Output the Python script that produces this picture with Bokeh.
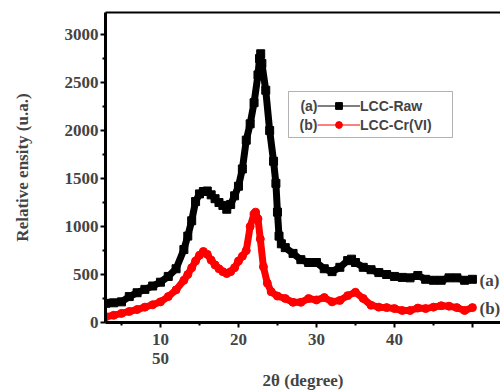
from bokeh.plotting import figure
from bokeh.models import (Range1d, LinearAxis, FixedTicker, Label, Legend, LegendItem,
                          BoxAnnotation)
from bokeh.embed import file_html
from bokeh.resources import INLINE

nan = float("nan")

# ---- data ----
raw_x = [3, 4, 5, 6, 7, 8, 9, 10, 11, 12, 13, 13.5, 14, 14.5, 15, 15.5, 16, 16.5, 17, 17.5,
         18, 18.5, 19, 19.5, 20, 20.5, 21, 21.5, 22, 22.5, 22.7, 22.85, 23, 23.5, 24, 24.5,
         24.8, 25, 25.2, 25.5, 26, 27, 28, 29, 30, 31, 32, 33, 34, 34.5, 35, 36, 37, 38, 39,
         40, 41, 42, 43, 44, 45, 46, 47, 48, 49, 50]
raw_y = [200, 205, 215, 270, 310, 345, 380, 420, 480, 560, 760, 900, 1060, 1260, 1340, 1365,
         1370, 1330, 1290, 1250, 1220, 1180, 1230, 1320, 1420, 1600, 1900, 2070, 2290, 2580,
         2750, 2800, 2700, 2420, 2000, 1680, 1450, 1150, 900, 820, 780, 720, 655, 625, 625,
         560, 530, 575, 645, 660, 625, 575, 550, 520, 500, 480, 470, 465, 490, 450, 440, 440,
         465, 465, 440, 450]

cr_x = [3, 4, 5, 6, 7, 8, 9, 10, 11, 12, 13, 13.5, 14, 14.5, 15, 15.5, 16, 16.5, 17, 17.5,
        18, 18.5, 19, 19.5, 20, 20.5, 21, 21.5, 22, 22.2, 22.5, 22.8, 23.2, 23.7, 24.2, 25,
        26, 27, 28, 29, 30, 31, 32, 33, 34, 35, 36, 37, 38, 39, 40, 41, 42, 43, 44, 45, 46,
        47, 48, 49, 50]
cr_y = [60, 75, 95, 115, 135, 160, 185, 215, 270, 340, 440, 500, 570, 640, 700, 740, 710,
        650, 600, 560, 530, 510, 530, 570, 640, 690, 750, 1000, 1130, 1150, 1080, 870, 580,
        410, 320, 275, 250, 210, 210, 250, 235, 260, 215, 230, 280, 315, 250, 180, 160, 155,
        145, 125, 125, 150, 145, 160, 175, 170, 155, 125, 155]

x_ticks = [10, 20, 30, 40, 50]
x_tick_labels = {10: "10\n50", 50: ""}
y_ticks = [0, 500, 1000, 1500, 2000, 2500, 3000]
series_names = ["LCC-Raw", "LCC-Cr(VI)"]
series_tags = ["(a)", "(b)"]

SERIF = "Liberation Serif"
SANS = "Liberation Sans"

p = figure(width=500, height=392, output_backend="svg", toolbar_location=None,
           x_range=Range1d(2.95, 53.6), y_range=Range1d(0, 3230),
           min_border_left=105, min_border_right=0, min_border_top=12, min_border_bottom=0)
p.grid.visible = False
p.outline_line_color = None
p.background_fill_color = "white"

# data
p.line(raw_x, raw_y, line_color="black", line_width=7)
r_raw = p.scatter(raw_x, raw_y, marker="square", size=8, color="black")
p.line(cr_x, cr_y, line_color="red", line_width=7)
r_cr = p.scatter(cr_x, cr_y, marker="circle", size=8, color="red")

# thin lines for legend glyphs (no visible data)
lg_raw = p.line(x=[nan], y=[nan], line_color="black", line_width=1)
lg_cr = p.line(x=[nan], y=[nan], line_color="red", line_width=1)

# axes
xa = p.below[0]
ya = p.left[0]
xa.ticker = FixedTicker(ticks=x_ticks, minor_ticks=[5, 15, 25, 35, 45])
xa.major_label_overrides = x_tick_labels
ya.ticker = FixedTicker(ticks=y_ticks, minor_ticks=[250, 750, 1250, 1750, 2250, 2750, 3250])
for ax in (xa, ya):
    ax.axis_line_width = 3
    ax.major_tick_line_width = 2
    ax.minor_tick_line_width = 2
    ax.major_tick_in = 0
    ax.major_tick_out = 5
    ax.minor_tick_in = 0
    ax.minor_tick_out = 3
    ax.major_label_text_font = SERIF
    ax.major_label_text_font_style = "bold"
    ax.major_label_text_font_size = "17px"
    ax.axis_label_text_font = SERIF
    ax.axis_label_text_font_style = "bold"
    ax.axis_label_text_font_size = "17px"
xa.axis_label = "2θ (degree)"
xa.major_label_standoff = 2
xa.major_label_text_line_height = 1.0
xa.axis_label_standoff = 0
ya.axis_label = "Relative ensity (u.a.)"
ya.major_label_standoff = 2
ya.axis_label_standoff = 30

top = LinearAxis(ticker=FixedTicker(ticks=[]), axis_line_width=2,
                 major_label_text_font_size="0px", major_tick_out=0, minor_tick_out=0)
p.add_layout(top, "above")

# legend box and legend
p.add_layout(BoxAnnotation(left=183, right=347, bottom=185, top=231,
                           left_units="screen", right_units="screen",
                           bottom_units="screen", top_units="screen",
                           fill_alpha=0, line_color="black", line_width=1))
legend = Legend(items=[LegendItem(label=series_names[0], renderers=[lg_raw, r_raw]),
                       LegendItem(label=series_names[1], renderers=[lg_cr, r_cr])],
                location=(212, 189), padding=0, spacing=2, margin=0,
                glyph_width=43, glyph_height=17, label_standoff=0,
                label_text_font=SANS, label_text_font_style="bold",
                label_text_font_size="14px", label_height=17,
                border_line_color=None, background_fill_alpha=0)
p.add_layout(legend)
for i, yy in enumerate([217, 198]):
    p.add_layout(Label(x=212, y=yy, x_units="screen", y_units="screen", text=series_tags[i],
                       text_align="right", text_baseline="middle", text_font=SANS,
                       text_font_style="bold", text_font_size="14px"))

# right-end tags
for i, yy in enumerate([42, 14]):
    p.add_layout(Label(x=374, y=yy, x_units="screen", y_units="screen", text=series_tags[i],
                       text_align="left", text_baseline="middle", text_font=SERIF,
                       text_font_style="bold", text_font_size="17px"))

open("out.html", "w").write(file_html(p, INLINE))
